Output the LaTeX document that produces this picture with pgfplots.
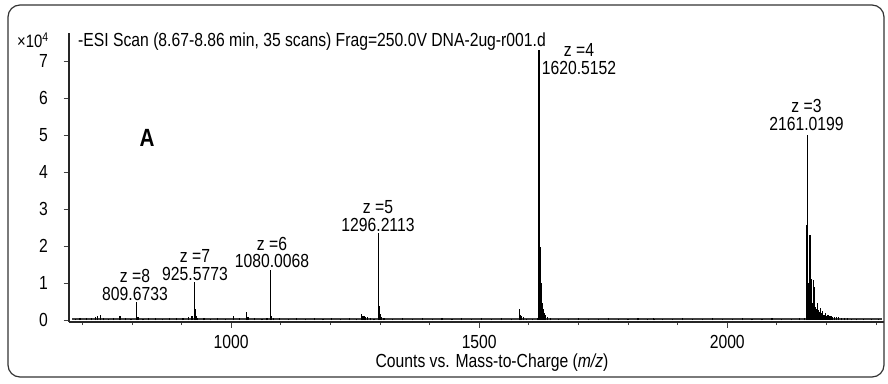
\documentclass[border=0pt]{standalone}
\usepackage{fontspec}
\setmainfont[FakeStretch=0.83]{Liberation Sans}
\usepackage{pgfplots}
\pgfplotsset{compat=1.18}
\pgfplotstableread{
x y
686 0.04
695 0.05
708 0.05
718 0.06
726 0.08
731 0.10
736 0.14
742 0.05
752 0.04
763 0.05
776 0.12
787 0.05
798 0.04
809.67 0.48
812 0.08
822 0.04
834 0.05
848 0.06
862 0.04
876 0.05
890 0.06
903 0.05
914 0.07
921 0.10
925.58 1.04
927.2 0.30
929 0.12
932 0.06
945 0.05
958 0.04
972 0.05
988 0.04
1004 0.10
1017 0.05
1031.6 0.22
1034 0.08
1047 0.05
1062 0.04
1072 0.05
1080.01 1.35
1082 0.12
1085 0.06
1098 0.05
1115 0.04
1132 0.06
1150 0.04
1168 0.05
1185 0.04
1202 0.05
1220 0.04
1238 0.05
1252 0.04
1263 0.15
1265.5 0.12
1268 0.11
1271 0.09
1274 0.07
1280 0.05
1288 0.04
1296.21 2.34
1298 0.38
1300 0.15
1303 0.08
1308 0.05
1325 0.04
1345 0.05
1365 0.04
1385 0.05
1405 0.04
1425 0.05
1445 0.04
1465 0.05
1485 0.04
1505 0.05
1525 0.04
1545 0.05
1565 0.04
1581 0.30
1583 0.14
1586 0.11
1590 0.07
1596 0.04
1608 0.04
1617 0.05
1620.52 7.30
1621.7 5.81
1623.2 1.98
1625 1.00
1627 0.46
1629 0.30
1631 0.20
1634 0.13
1638 0.08
1644 0.05
1660 0.04
1680 0.04
1700 0.05
1720 0.04
1740 0.04
1760 0.05
1780 0.04
1800 0.04
1820 0.05
1840 0.04
1851 0.06
1854 0.04
1870 0.04
1890 0.04
1910 0.05
1930 0.04
1950 0.04
1970 0.05
1990 0.04
2010 0.04
2030 0.05
2050 0.04
2070 0.04
2090 0.05
2110 0.04
2130 0.04
2145 0.05
2155 0.05
2159.6 2.57
2161.02 5.00
2162.4 0.75
2164 1.00
2166.3 2.30
2167.6 2.30
2169 1.10
2170.5 0.55
2172.5 0.45
2174.5 1.08
2176 0.90
2178 0.35
2180 0.30
2182 0.46
2184 0.28
2186 0.22
2187.8 0.32
2190 0.18
2192.5 0.24
2195 0.14
2197.5 0.18
2200 0.12
2203 0.14
2206 0.10
2209 0.11
2212 0.08
2216 0.09
2220 0.07
2225 0.07
2230 0.06
2236 0.05
2243 0.05
2250 0.04
2260 0.04
2275 0.03
2290 0.03
2305 0.03
}\spectrum
\begin{document}
\begin{tikzpicture}[font=\fontsize{19}{21}\selectfont]
\begin{axis}[
  at={(0,0)}, anchor=south west, scale only axis,
  width=815bp, height=289bp,
  xmin=673, xmax=2316, ymin=-0.054, ymax=7.757,
  axis x line*=bottom, axis y line*=left,
  axis line style={-, line width=1.1pt, black!85},
  xtick={1000,1500,2000},
  minor xtick={700,800,900,1100,1200,1300,1400,1600,1700,1800,1900,2100,2200,2300},
  ytick={0,1,2,3,4,5,6,7},
  tick align=outside,
  major tick length=5.5bp, minor tick length=3bp,
  every tick/.style={black!75, line width=0.8pt},
  /pgf/number format/assume math mode=true,
  scaled ticks=false,
  xticklabel style={/pgf/number format/1000 sep={}, inner sep=0pt, anchor=base, yshift=-21bp},
  yticklabel style={inner sep=0pt, anchor=center, xshift=-20bp},
  xlabel={Counts vs. Mass-to-Charge (\textit{m/z})},
  every axis x label/.style={at={(axis description cs:0.519,0)}, anchor=center, yshift=-41bp},
  title={-ESI Scan (8.67-8.86 min, 35 scans) Frag=250.0V DNA-2ug-r001.d},
  every axis title/.style={at={(axis description cs:0.011,0.969)}, anchor=west, inner sep=0pt},
]
\addplot[sharp plot, black!75, line width=1.3pt, forget plot] coordinates {(680,0.025) (2312,0.025)};
\addplot[ycomb, black, line width=1.2pt] table[x=x, y=y] {\spectrum};
\end{axis}
\begin{scope}[x=1bp, y=-1bp, shift={(-69bp,322bp)}]
\useasboundingbox (0,0) rectangle (888,383);
\draw[black!80, line width=1.2bp, rounded corners=12bp] (8,5) rectangle (884,377);
\node[anchor=west, inner sep=0pt, font=\fontsize{18}{20}\selectfont] at (17,40) {×10\textsuperscript{4}};
\node[inner sep=0pt, font=\fontsize{25}{28}\selectfont\bfseries] at (147,138) {A};
\foreach \cx/\cy/\zt/\nt in {
  135/285/8/809.6733,
  195/265/7/925.5773,
  272/252.5/6/1080.0068,
  378/216.5/5/1296.2113,
  579/59.5/4/1620.5152,
  806.5/115/3/2161.0199}{
  \node[inner sep=0pt, align=center, font=\fontsize{19}{18}\selectfont] at (\cx,\cy) {z =\zt\\\nt};
}
\end{scope}
\end{tikzpicture}
\end{document}
